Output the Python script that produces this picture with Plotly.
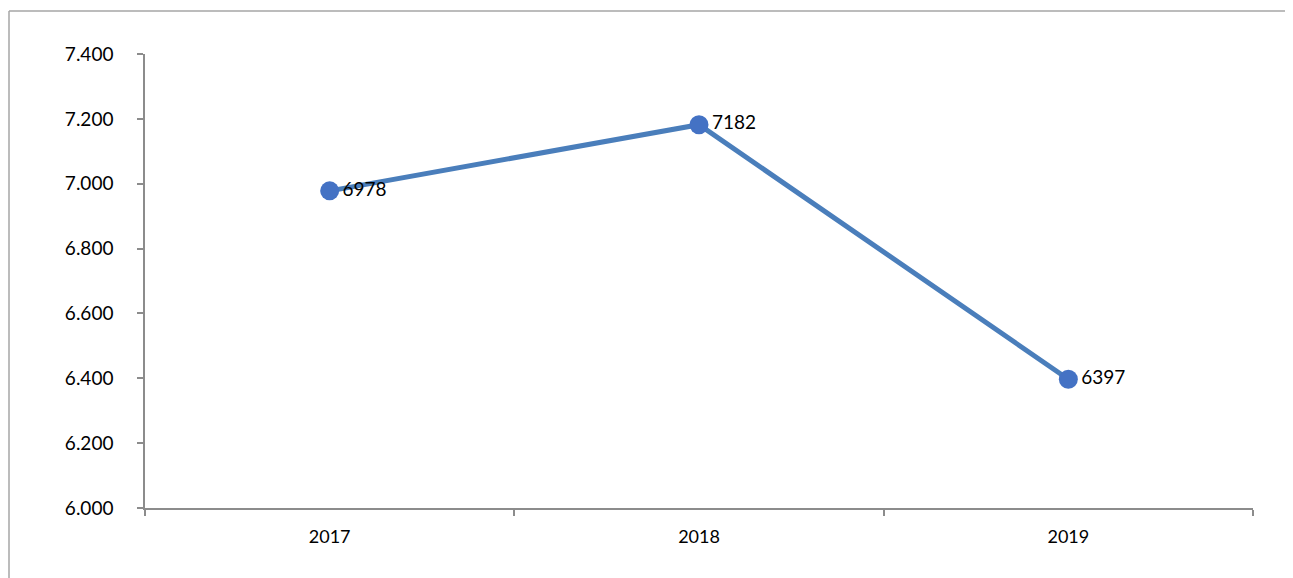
import plotly.graph_objects as go

years = ["2017", "2018", "2019"]
values = [6978, 7182, 6397]
labels = ["6978", "7182", "6397"]
y_ticks = [6000, 6200, 6400, 6600, 6800, 7000, 7200, 7400]

OFF = 8  # default page body margin
W, H = 1293 - 2 * OFF, 578 - OFF
L, T = 145 - OFF, 54 - OFF
R = W - (1253 - OFF)
B = H - (508 - OFF)
PW, PH = W - L - R, H - T - B

FONT = "Lato, Noto Sans, sans-serif"

fig = go.Figure()
fig.add_trace(go.Scatter(
    x=years, y=values, mode="lines+markers+text",
    text=labels, textposition="middle right",
    textfont=dict(family=FONT, size=19, color="#000000"),
    line=dict(color="#4a7ebb", width=5),
    marker=dict(color="#4472c4", size=19),
    cliponaxis=False, showlegend=False,
))

axis_color = "#8c8c8c"
bx = (9 - 145) / PW
by = (508 - 11) / PH
border = dict(color="#a6a6a6", width=1.5)
fig.update_layout(
    width=W, height=H,
    margin=dict(l=L, r=R, t=T, b=B),
    paper_bgcolor="white", plot_bgcolor="white",
    separators=",.",
    font=dict(family=FONT, size=19, color="#000000"),
    xaxis=dict(
        type="category", range=[-0.5, 2.5], tickson="boundaries",
        ticks="outside", ticklen=6, tickcolor=axis_color, tickwidth=1.5,
        showline=True, linecolor=axis_color, linewidth=1.5,
        showgrid=False, zeroline=False,
        tickfont=dict(size=18), ticklabelstandoff=12,
    ),
    yaxis=dict(
        range=[6000, 7400], tickvals=y_ticks, tickformat=",.0f",
        ticks="outside", ticklen=6, tickcolor=axis_color, tickwidth=1.5,
        showline=True, linecolor=axis_color, linewidth=1.5,
        showgrid=False, zeroline=False,
        tickfont=dict(size=19), ticklabelstandoff=20,
    ),
    shapes=[
        dict(type="line", xref="paper", yref="paper",
             x0=bx, x1=1.1, y0=by, y1=by, line=border, layer="below"),
        dict(type="line", xref="paper", yref="paper",
             x0=bx, x1=bx, y0=by, y1=-0.2, line=border, layer="below"),
    ],
)

fig.write_html("out.html")
